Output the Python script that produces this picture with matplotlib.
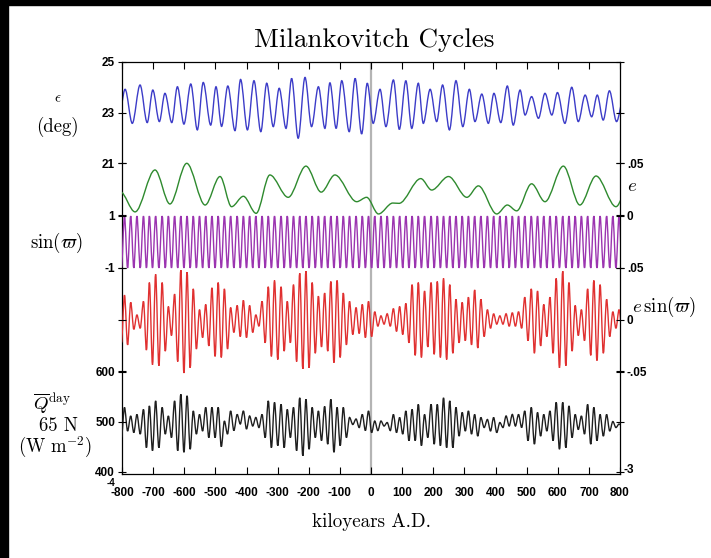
import numpy as np
import matplotlib.pyplot as plt
from matplotlib.path import Path
from matplotlib.patches import PathPatch

plt.rcParams['mathtext.fontset'] = 'cm'

# ---- data (kiloyears A.D.) ----
# obliquity: alternating troughs / peaks
obl_t = [-811, -790, -767, -742, -719, -701, -680, -662, -640, -622, -601, -579,
         -558, -539, -515, -498, -480, -460, -437, -419, -397, -376, -354, -335,
         -314, -295, -273, -255, -234, -212, -191, -169, -148, -132, -112, -94,
         -70, -51, -30, -12, 7, 29, 48, 72, 91, 112, 131, 152, 168, 190, 211, 230,
         252, 273, 295, 316, 334, 356, 377, 395, 417, 438, 457, 479, 495, 516,
         538, 559, 581, 599, 623, 645, 666, 688, 709, 727, 746, 766, 789, 810]
obl_v = [22.70, 23.92, 22.57, 24.09, 22.60, 23.89, 22.64, 23.76, 22.60, 24.02,
         22.54, 24.13, 22.31, 24.19, 22.50, 24.02, 22.45, 24.05, 22.28, 24.31,
         22.31, 24.26, 22.24, 24.16, 22.44, 23.96, 22.37, 24.35, 21.98, 24.39,
         22.44, 24.02, 22.37, 24.18, 22.37, 24.26, 22.24, 24.35, 22.15, 24.16,
         22.57, 23.92, 22.44, 24.29, 22.33, 24.26, 22.37, 24.16, 22.57, 23.92,
         22.64, 24.09, 22.31, 24.26, 22.44, 23.92, 22.64, 23.73, 22.57, 23.76,
         22.60, 24.05, 22.50, 23.89, 22.90, 23.63, 22.77, 23.76, 22.90, 23.79,
         22.57, 24.00, 22.64, 23.69, 22.83, 23.69, 22.70, 23.86, 22.64, 23.50]

# eccentricity turning points
ecc_t = [-806, -758, -694, -646, -592, -533, -485, -448, -410, -369,
         -325, -266, -209, -160, -116, -46, -14, 24, 70, 90,
         160, 195, 249, 308, 345, 404, 438, 468, 516, 559,
         618, 671, 723, 787, 830]
ecc_v = [0.0225, 0.003, 0.0433, 0.0106, 0.0497, 0.0096, 0.037, 0.008, 0.018, 0.0016,
         0.0385, 0.017, 0.047, 0.022, 0.0385, 0.0128, 0.017, 0.001, 0.0115, 0.0112,
         0.035, 0.024, 0.037, 0.017, 0.028, 0.001, 0.0096, 0.004, 0.030, 0.0128,
         0.047, 0.0096, 0.0375, 0.008, 0.030]

# precession: times where sin(varpi) = 1
prec_t = [-792, -772, -752, -731, -712, -692, -671, -651, -631, -611, -591, -571,
          -551, -531, -511, -491, -471, -451, -430, -410, -390, -370, -350, -330,
          -310, -289, -269, -249, -229, -209, -189, -169, -149, -129, -109, -89,
          -69, -48, -28, -8, 12, 32, 52, 72, 92, 112, 132, 152, 172, 193, 213, 233,
          253, 273, 293, 313, 333, 353, 374, 394, 414, 434, 454, 474, 494, 515,
          535, 555, 575, 595, 616, 636, 656, 676, 696, 716, 736, 757, 777, 797]
sinw_hi = 1.0
sinw_lo = -1.0

# e sin(varpi): value at each peak, and troughs (one before the first peak, then after each)
esin_hi = [0.024, 0.017, 0.005, 0.018, 0.036, 0.044, 0.036, 0.013, 0.025, 0.048, 0.046, 0.030, 0.010, 0.015, 0.031, 0.036,
           0.030, 0.012, 0.014, 0.019, 0.014, 0.005, 0.018, 0.032, 0.038, 0.032, 0.018, 0.034, 0.045, 0.047, 0.036, 0.023,
           0.026, 0.037, 0.038, 0.026, 0.018, 0.012, 0.015, 0.018, 0.008, 0.004, 0.006, 0.011, 0.013, 0.016, 0.034, 0.036,
           0.028, 0.036, 0.037, 0.040, 0.034, 0.020, 0.017, 0.022, 0.029, 0.020, 0.010, 0.006, 0.004, 0.006, 0.007, 0.008,
           0.022, 0.030, 0.028, 0.015, 0.022, 0.040, 0.047, 0.036, 0.014, 0.010, 0.030, 0.038, 0.034, 0.020, 0.008, 0.010]
esin_lo = [-0.022,
           -0.024, -0.009, -0.008, -0.029, -0.043, -0.044, -0.030, -0.015, -0.040, -0.051, -0.046, -0.028, -0.017, -0.025, -0.035, -0.036,
           -0.028, -0.012, -0.016, -0.017, -0.012, -0.006, -0.022, -0.035, -0.038, -0.030, -0.022, -0.040, -0.047, -0.046, -0.032, -0.026,
           -0.030, -0.041, -0.036, -0.024, -0.014, -0.013, -0.017, -0.016, -0.006, -0.004, -0.006, -0.011, -0.014, -0.022, -0.034, -0.036,
           -0.026, -0.033, -0.036, -0.038, -0.032, -0.022, -0.020, -0.024, -0.027, -0.016, -0.008, -0.004, -0.004, -0.006, -0.006, -0.008,
           -0.020, -0.032, -0.025, -0.016, -0.032, -0.046, -0.044, -0.030, -0.015, -0.020, -0.034, -0.039, -0.032, -0.016, -0.008, -0.012]

# mean daily insolation at 65 N (W m^-2), same layout as above
q_hi = [528, 511, 514, 524, 531, 541, 528, 511, 541, 554, 551, 521, 514, 528, 528, 528,
        501, 521, 514, 521, 511, 508, 514, 541, 538, 534, 524, 528, 547, 544, 528, 521,
        530, 544, 528, 528, 508, 505, 514, 521, 501, 501, 498, 514, 508, 521, 524, 534,
        514, 534, 534, 547, 541, 528, 518, 521, 514, 508, 504, 508, 498, 511, 514, 514,
        521, 528, 518, 514, 521, 538, 538, 531, 514, 511, 534, 528, 514, 514, 500, 495]
q_lo = [468,
        481, 478, 475, 448, 442, 448, 475, 468, 442, 439, 445, 475, 481, 468, 468, 450,
        475, 482, 495, 485, 491, 488, 468, 448, 452, 448, 468, 442, 432, 445, 468, 462,
        455, 439, 452, 468, 494, 488, 482, 478, 482, 491, 482, 478, 475, 462, 462, 452,
        468, 455, 452, 448, 448, 471, 481, 475, 471, 488, 481, 478, 488, 491, 491, 488,
        462, 455, 471, 481, 462, 445, 448, 468, 484, 475, 455, 462, 471, 481, 488, 490]

x_ticks = list(range(-800, 801, 100))


def turning_path(ts, vs):
    # smooth curve through turning points, flat at each one
    verts = [(ts[0], vs[0])]
    codes = [Path.MOVETO]
    for i in range(1, len(ts)):
        d = (ts[i] - ts[i - 1]) / 3.
        verts += [(ts[i - 1] + d, vs[i - 1]), (ts[i] - d, vs[i]), (ts[i], vs[i])]
        codes += [Path.CURVE4] * 3
    return Path(verts, codes)


def prec_series(hi, lo):
    t = np.asarray(prec_t, float)
    mid = (t[1:] + t[:-1]) / 2
    tt = [t[0] - (t[1] - t[0]) / 2]
    vv = [lo[0]]
    for i in range(len(t)):
        tt.append(t[i]); vv.append(hi[i])
        tt.append(mid[i] if i < len(mid) else t[i] + (t[i] - t[i - 1]) / 2)
        vv.append(lo[i + 1])
    return tt, vv


# frame in pixels of the 711x558 picture
W, H = 711., 558.
x0, x1, ytop, ybot = 122., 620., 62., 474.


def lim(v1, p1, v2, p2):
    s = (v1 - v2) / (p2 - p1)
    return v1 - (ybot - p1) * s, v1 + (p1 - ytop) * s


fig = plt.figure(figsize=(W / 100, H / 100), dpi=100)
rect = [x0 / W, (H - ybot) / H, (x1 - x0) / W, (ybot - ytop) / H]

ax = fig.add_axes(rect)                       # obliquity + frame
ax_e = fig.add_axes(rect, sharex=ax)
ax_s = fig.add_axes(rect, sharex=ax)
ax_es = fig.add_axes(rect, sharex=ax)
ax_q = fig.add_axes(rect, sharex=ax)

ax.set_ylim(*lim(25, 62, 21, 163))
ax_e.set_ylim(*lim(0.05, 163, 0.0, 215))
ax_s.set_ylim(*lim(1, 216, -1, 268))
ax_es.set_ylim(*lim(0.05, 268, -0.05, 372))
ax_q.set_ylim(*lim(600, 371, 400, 472))
ax.set_xlim(-800, 800)

tick_font = dict(family='Liberation Sans', weight='bold', size=8.5)

for a in (ax_e, ax_s, ax_es, ax_q):
    a.patch.set_visible(False)
    for sp in a.spines.values():
        sp.set_visible(False)
    a.xaxis.set_visible(False)

for a in (ax, ax_e, ax_s, ax_es, ax_q):
    a.tick_params(axis='y', direction='inout', length=6, width=0.8,
                  left=True, right=True, labelleft=False, labelright=False, pad=2)

ax.set_yticks([25, 23, 21])
ax.set_yticklabels(['25', '23', '21'], **tick_font)
ax.tick_params(axis='y', labelleft=True)
ax_s.set_yticks([1, -1])
ax_s.set_yticklabels(['1', '-1'], **tick_font)
ax_s.tick_params(axis='y', labelleft=True)
ax_q.set_yticks([600, 500, 400])
ax_q.set_yticklabels(['600', '500', '400'], **tick_font)
ax_q.tick_params(axis='y', labelleft=True)
ax_e.set_yticks([0.05, 0.0])
ax_e.set_yticklabels(['.05', '0'], **tick_font)
ax_e.tick_params(axis='y', labelright=True)
ax_es.set_yticks([0.05, 0.0, -0.05])
ax_es.set_yticklabels(['.05', '0', '-.05'], **tick_font)
ax_es.tick_params(axis='y', labelright=True)

ax.set_xticks(x_ticks)
ax.set_xticklabels([str(v) for v in x_ticks], **tick_font)
ax.tick_params(axis='x', direction='in', length=5, width=0.8, top=True, pad=9)
for sp in ax.spines.values():
    sp.set_linewidth(0.9)

ax.axvline(0, color='#b4b4b4', lw=1.6, zorder=0)

ax.add_patch(PathPatch(turning_path(obl_t, obl_v), fill=False, edgecolor='#3c3cc8', lw=1.0))
ax_e.add_patch(PathPatch(turning_path(ecc_t, ecc_v), fill=False, edgecolor='#2e8a2e', lw=1.0))
tt, vv = prec_series([sinw_hi] * len(prec_t), [sinw_lo] * (len(prec_t) + 1))
ax_s.add_patch(PathPatch(turning_path(tt, vv), fill=False, edgecolor='#9b34b0', lw=1.0))
tt, vv = prec_series(esin_hi, esin_lo)
ax_es.add_patch(PathPatch(turning_path(tt, vv), fill=False, edgecolor='#e03030', lw=1.0))
tt, vv = prec_series(q_hi, q_lo)
ax_q.add_patch(PathPatch(turning_path(tt, vv), fill=False, edgecolor='#1e1e1e', lw=1.0))

# text
serif = dict(family='cmr10')
fig.text(374 / W, 1 - 40 / H, 'Milankovitch Cycles', ha='center', va='center', size=19.5, **serif)
fig.text(371 / W, 1 - 522 / H, 'kiloyears A.D.', ha='center', va='center', size=13.7, **serif)
fig.text(58 / W, 1 - 98 / H, r'$\epsilon$', ha='center', va='center', size=11)
fig.text(57 / W, 1 - 127 / H, '(deg)', ha='center', va='center', size=13.5, **serif)
fig.text(56 / W, 1 - 243 / H, r'$\sin(\varpi)$', ha='center', va='center', size=13.5)
fig.text(52 / W, 1 - 404 / H, r'$\overline{Q}^{\rm day}$', ha='center', va='center', size=13.5)
fig.text(58 / W, 1 - 426 / H, '65 N', ha='center', va='center', size=13.5, **serif)
fig.text(55 / W, 1 - 447 / H, r'$({\rm W\ m}^{-2})$', ha='center', va='center', size=13.5)
fig.text(632 / W, 1 - 186 / H, r'$e$', ha='center', va='center', size=13.5)
fig.text(664 / W, 1 - 307 / H, r'$e\,\sin(\varpi)$', ha='center', va='center', size=13.5)
fig.text(115 / W, 1 - 483 / H, '-4', ha='right', va='center', family='Liberation Sans',
         weight='bold', size=7)
fig.text(623 / W, 1 - 470 / H, '-3', ha='left', va='center', **tick_font)

# dark border of the scan
fig.patches.append(plt.Rectangle((0, 0), 8 / W, 1, transform=fig.transFigure, color='black', zorder=-1))
fig.patches.append(plt.Rectangle((0, 1 - 5 / H), 1, 5 / H, transform=fig.transFigure, color='black', zorder=-1))

fig.savefig('out.png', dpi=100)
